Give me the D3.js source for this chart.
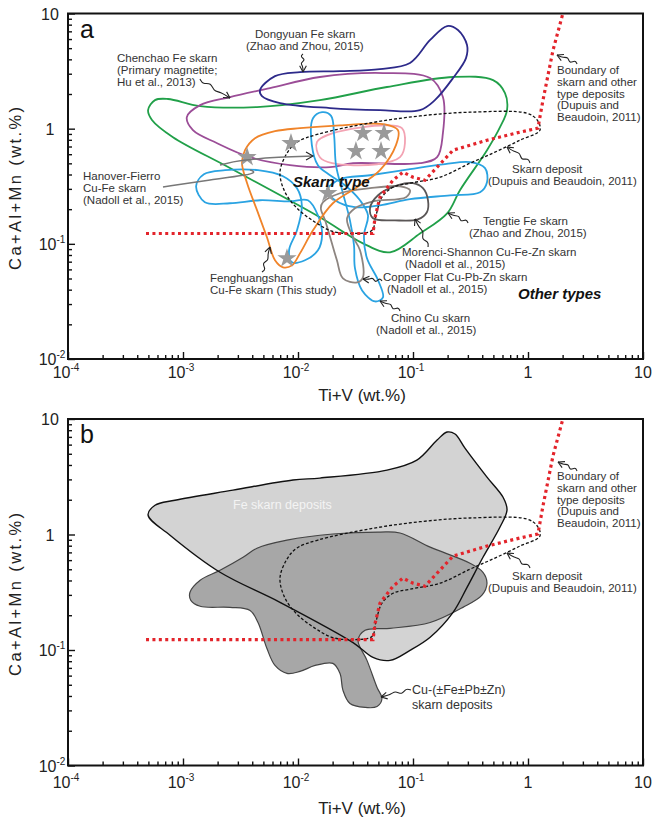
<!DOCTYPE html>
<html><head><meta charset="utf-8">
<script src="https://cdn.jsdelivr.net/npm/d3@7"></script>
<style>body{margin:0;background:#fff}svg{display:block}text{font-family:Arial,"Liberation Sans",sans-serif}</style>
</head><body><svg id="c" width="654" height="818"></svg>
<script>
// ---------- data (x = Ti+V wt.%, y = Ca+Al+Mn wt.%) ----------
const xTicks = [1e-4, 1e-3, 1e-2, 1e-1, 1, 10];
const xTickLabels = [["10","-4"],["10","-3"],["10","-2"],["10","-1"],["1",""],["10",""]];
const yTicks = [1e-2, 1e-1, 1, 10];
const yTickLabels = [["10","-2"],["10","-1"],["1",""],["10",""]];

const dongyuan = [[4.67e-3,2.16],[6.31e-3,2.86],[0.0104,3.10],[0.0232,3.16],[0.0516,3.29],[0.0942,3.72],[0.141,5.89],[0.198,7.78],[0.246,7.19],[0.295,5.32],[0.289,4.10],[0.223,2.75],[0.155,1.77],[0.115,1.45],[0.0516,1.45],[0.019,1.51],[6.97e-3,1.67],[4.86e-3,1.92]];
const chenchao = [[1.08e-3,1.26],[1.22e-3,0.970],[1.98e-3,0.748],[3.83e-3,0.565],[8.51e-3,0.482],[0.019,0.463],[0.0301,0.501],[0.115,0.501],[0.162,0.565],[0.182,0.914],[0.182,1.88],[0.141,2.75],[0.0548,3.04],[0.0155,2.81],[5.71e-3,2.25],[2.56e-3,1.88],[1.41e-3,1.60]];
const tengtie = [[4.97e-4,1.45],[5.71e-4,1.77],[7.41e-4,1.81],[1.41e-3,1.57],[4.40e-3,1.54],[0.0155,1.77],[0.0594,2.30],[0.223,2.81],[0.497,2.64],[0.631,2.04],[0.657,1.45],[0.571,1.03],[0.44,0.650],[0.256,0.292],[0.198,0.184],[0.115,0.123],[0.0631,0.0844],[0.0367,0.101],[0.0155,0.170],[2.56e-3,0.455],[8.18e-4,0.843],[5.37e-4,1.19]];
const fenghuangshan = [[3.46e-3,0.650],[4.23e-3,0.826],[6.31e-3,0.951],[0.0104,1.01],[0.0232,1.07],[0.0571,1.09],[0.0741,0.970],[0.0711,0.720],[0.0516,0.436],[0.0326,0.310],[0.0201,0.225],[0.0135,0.131],[0.0104,0.0826],[8.87e-3,0.0650],[7.41e-3,0.0625],[6.31e-3,0.0720],[5.37e-3,0.114],[4.40e-3,0.196],[3.61e-3,0.336],[3.26e-3,0.501]];
const pinkField = [[0.0146,0.764],[0.0155,0.565],[0.0198,0.501],[0.0487,0.491],[0.0771,0.565],[0.0851,0.748],[0.0801,1.01],[0.0594,1.07],[0.0201,0.914]];
const hanoverFierro = [[1.30e-3,0.316],[1.52e-3,0.402],[2.32e-3,0.436],[4.49e-3,0.436],[7.41e-3,0.386],[9.8e-3,0.304],[0.0108,0.216],[9.8e-3,0.131],[8.36e-3,0.0878],[8.87e-3,0.0691],[0.0115,0.0720],[0.0149,0.0878],[0.0162,0.119],[0.0149,0.177],[0.0122,0.239],[8.51e-3,0.234],[4.67e-3,0.239],[2.56e-3,0.225],[1.55e-3,0.230]];
const chino = [[0.0135,1.23],[0.0162,1.39],[0.0194,1.29],[0.0206,0.877],[0.0214,0.482],[0.0242,0.292],[0.0283,0.160],[0.0307,0.097],[0.0313,0.0612],[0.0361,0.0394],[0.0468,0.0316],[0.0548,0.0343],[0.0497,0.0482],[0.0398,0.0748],[0.0375,0.119],[0.0406,0.177],[0.0346,0.239],[0.0256,0.323],[0.019,0.394],[0.0149,0.482],[0.0132,0.720]];
const blueField = [[0.0179,0.292],[0.0232,0.364],[0.0423,0.394],[0.0942,0.445],[0.190,0.492],[0.313,0.512],[0.423,0.454],[0.44,0.343],[0.383,0.281],[0.210,0.264],[0.0942,0.244],[0.0516,0.216],[0.0313,0.208],[0.0210,0.239]];
const copperFlat = [[0.0165,0.230],[0.0232,0.275],[0.0423,0.304],[0.0771,0.316],[0.0942,0.292],[0.0869,0.254],[0.0449,0.234],[0.0313,0.204],[0.0267,0.167],[0.0295,0.119],[0.0346,0.0878],[0.0367,0.0512],[0.0326,0.0462],[0.0246,0.0501],[0.0218,0.0720],[0.0194,0.107],[0.0172,0.160],[0.0158,0.204]];
const morenci = [[0.0449,0.167],[0.0423,0.204],[0.0497,0.264],[0.0741,0.323],[0.1,0.336],[0.122,0.304],[0.135,0.239],[0.132,0.188],[0.110,0.163],[0.0697,0.160]];
const skarnDeposit = [[8.02e-3,0.612],[9.8e-3,0.764],[0.0149,0.895],[0.0423,1.12],[0.115,1.29],[0.313,1.39],[0.98,1.36],[1.20,1.19],[1.27,0.970],[0.851,0.794],[0.516,0.625],[0.313,0.501],[0.172,0.379],[0.0942,0.336],[0.067,0.310],[0.0537,0.254],[0.0477,0.177],[0.044,0.131],[0.0313,0.123],[0.0201,0.128],[0.0141,0.154],[9.8e-3,0.204],[7.71e-3,0.281],[6.97e-3,0.419]];
const boundary = [[4.77e-4,0.123],[0.0449,0.123],[0.0468,0.170],[0.0516,0.254],[0.067,0.357],[0.0818,0.419],[0.1,0.379],[0.127,0.357],[0.223,0.65],[0.44,0.794],[0.851,0.933],[1.22,1.01],[1.35,1.77],[1.65,4.8],[2.01,10]];
const stars = [[3.61e-3,0.565],[8.69e-3,0.748],[0.0367,0.914],[0.056,0.914],[0.0319,0.637],[0.0527,0.637],[0.0182,0.275],[8.02e-3,0.0748]];
const feSkarn = [[4.97e-4,1.47],[5.71e-4,1.79],[8.51e-4,1.98],[2.72e-3,2.42],[9.05e-3,2.96],[0.0155,3.08],[0.0594,3.61],[0.108,4.41],[0.162,6.58],[0.198,7.71],[0.232,7.41],[0.283,5.60],[0.44,3.14],[0.607,2.10],[0.657,1.63],[0.571,1.16],[0.406,0.635],[0.295,0.349],[0.223,0.212],[0.141,0.129],[0.0942,0.0993],[0.0631,0.0813],[0.0449,0.0863],[0.0301,0.116],[6.97e-3,0.259],[2.10e-3,0.471],[7.71e-4,0.986]];
const cuSkarn = [[1.15e-3,0.316],[1.41e-3,0.402],[2.10e-3,0.490],[3.33e-3,0.635],[4.40e-3,0.761],[8.02e-3,0.893],[0.0201,1.01],[0.0516,1.05],[0.0771,1.03],[0.141,0.777],[0.313,0.564],[0.406,0.471],[0.44,0.378],[0.398,0.298],[0.272,0.234],[0.141,0.173],[0.0631,0.154],[0.0383,0.148],[0.0333,0.121],[0.0398,0.0813],[0.0487,0.0474],[0.0537,0.0380],[0.0487,0.0324],[0.0383,0.0318],[0.0283,0.0344],[0.0246,0.0447],[0.0232,0.0627],[0.0201,0.0766],[0.0141,0.0735],[0.0104,0.0652],[8.02e-3,0.0627],[6.31e-3,0.0735],[5.37e-3,0.103],[4.49e-3,0.173],[3.83e-3,0.220],[2.56e-3,0.234],[1.41e-3,0.239],[1.17e-3,0.269]];

// ---------- drawing ----------
const svg = d3.select("#c");
const X0 = 68, X1 = 643;
const x = d3.scaleLog().domain([1e-4, 10]).range([X0, X1]);
const TXT = "#333";

function squiggle(g, x1, y1, x2, y2) {
  const dx = x2 - x1, dy = y2 - y1, L = Math.hypot(dx, dy), ux = dx / L, uy = dy / L, nx = -uy, ny = ux;
  const prof = [[0,0],[0.15,3],[0.32,-3],[0.5,3],[0.68,0],[1,0]];
  const pts = prof.map(([t, o]) => [x1 + dx * t + nx * o, y1 + dy * t + ny * o]);
  g.append("path").attr("d", d3.line().curve(d3.curveBasis)(pts)).attr("fill","none").attr("stroke","#222").attr("stroke-width",1.1);
  const a = 0.5, len = 7;
  [a, -a].forEach(r => {
    const c = Math.cos(r), s = Math.sin(r);
    const bx = -(ux * c - uy * s), by = -(ux * s + uy * c);
    g.append("line").attr("x1", x2).attr("y1", y2).attr("x2", x2 + bx * len).attr("y2", y2 + by * len).attr("stroke","#222").attr("stroke-width",1.1);
  });
}
function textLines(g, x0, y0, lines, size, dy, opts = {}) {
  lines.forEach((s, i) => {
    g.append("text").attr("x", x0).attr("y", y0 + i * dy).attr("font-size", size)
      .attr("fill", opts.fill || TXT).attr("font-weight", opts.weight || null).attr("font-style", opts.style || null)
      .text(s);
  });
}

function drawPanel(top, bottom, id) {
  const y = d3.scaleLog().domain([1e-2, 10]).range([bottom, top]);
  const g = svg.append("g");
  g.append("clipPath").attr("id", "clip" + id).append("rect").attr("x", X0).attr("y", top).attr("width", X1 - X0).attr("height", bottom - top);
  const plot = g.append("g").attr("clip-path", `url(#clip${id})`);
  const closed = d3.line().x(d => x(d[0])).y(d => y(d[1])).curve(d3.curveCatmullRomClosed.alpha(0.5));
  const open = d3.line().x(d => x(d[0])).y(d => y(d[1]));
  return { g, plot, y, closed, open };
}

function drawAxes(P, top, bottom, labOff, titleOff) {
  const { g, y } = P;
  const minor = [];
  for (let e = -4; e <= 0; e++) for (let k = 2; k <= 9; k++) minor.push(k * Math.pow(10, e));
  const minorY = minor.filter(v => v > 0.01 && v < 10);
  const ax = (sel) => sel.call(s => s.select(".domain").remove()).selectAll("line").attr("stroke", "#111").attr("stroke-width", 1.4);
  g.append("g").attr("transform", `translate(0,${bottom})`).call(d3.axisBottom(x).tickValues(minor).tickSize(-4).tickFormat("")).call(ax);
  g.append("g").attr("transform", `translate(0,${bottom})`).call(d3.axisBottom(x).tickValues(xTicks).tickSize(-7).tickFormat("")).call(ax);
  g.append("g").attr("transform", `translate(${X0},0)`).call(d3.axisLeft(y).tickValues(minorY).tickSize(-4).tickFormat("")).call(ax);
  g.append("g").attr("transform", `translate(${X0},0)`).call(d3.axisLeft(y).tickValues(yTicks).tickSize(-7).tickFormat("")).call(ax);
  g.append("rect").attr("x", X0).attr("y", top).attr("width", X1 - X0).attr("height", bottom - top).attr("fill", "none").attr("stroke", "#111").attr("stroke-width", 2);
  xTicks.forEach((v, i) => {
    const t = g.append("text").attr("x", x(v) + (xTickLabels[i][1] ? -2 : 0)).attr("y", bottom + labOff).attr("font-size", 16).attr("text-anchor", "middle").attr("fill", "#222");
    t.append("tspan").text(xTickLabels[i][0]);
    if (xTickLabels[i][1]) t.append("tspan").attr("dy", -7).attr("font-size", 10).text(xTickLabels[i][1]);
  });
  yTicks.forEach((v, i) => {
    const t = g.append("text").attr("x", 50 + (yTickLabels[i][1] ? 2 : 0)).attr("y", y(v) + 6).attr("font-size", 16).attr("text-anchor", "middle").attr("fill", "#222");
    t.append("tspan").text(yTickLabels[i][0]);
    if (yTickLabels[i][1]) t.append("tspan").attr("dy", -7).attr("font-size", 10).text(yTickLabels[i][1]);
  });
  g.append("text").attr("transform", `translate(21,${(top + bottom) / 2 + 1}) rotate(-90)`).attr("text-anchor", "middle").attr("font-size", 16.5).attr("letter-spacing", 2.4).attr("fill", "#222").text("Ca+Al+Mn (wt.%)");
  g.append("text").attr("x", 362).attr("y", bottom + titleOff).attr("text-anchor", "middle").attr("font-size", 17).attr("fill", "#222").text("Ti+V (wt.%)");
}

function drawBoundary(P) {
  P.plot.append("path").attr("d", P.closed(skarnDeposit)).attr("fill", "none").attr("stroke", "#111").attr("stroke-width", 1.3).attr("stroke-dasharray", "3,2");
  P.plot.append("path").attr("d", P.open(boundary)).attr("fill", "none").attr("stroke", "#e3242b").attr("stroke-width", 3.2).attr("stroke-dasharray", "3,3.4");
}

// ---------------- Panel a ----------------
const A = drawPanel(13.5, 359, "a");
const fields = [
  [tengtie, "#21a049"], [chenchao, "#9b4d97"], [dongyuan, "#2d2a8a"], [pinkField, "#f3a3b3"],
  [hanoverFierro, "#2aa3e2"], [chino, "#2aa3e2"], [blueField, "#2aa3e2"],
  [copperFlat, "#8d8580"], [morenci, "#5a5656"], [fenghuangshan, "#f0842a"]
];
fields.forEach(([d, c]) => A.plot.append("path").attr("d", A.closed(d)).attr("fill", "none").attr("stroke", c).attr("stroke-width", 1.8));
drawBoundary(A);
A.plot.selectAll("path.star").data(stars).join("path").attr("class", "star")
  .attr("transform", d => `translate(${x(d[0])},${A.y(d[1])})`)
  .attr("d", d3.symbol(d3.symbolStar).size(115)).attr("fill", "#9a9a9a");
drawAxes(A, 13.5, 359, 19, 42);

// annotations panel a
const ann = A.g.append("g");
ann.append("text").attr("x", 80).attr("y", 38).attr("font-size", 25).attr("fill", "#111").text("a");
textLines(ann, 255, 38, ["Dongyuan Fe skarn"], 11.5, 12);
textLines(ann, 246, 50, ["(Zhao and Zhou, 2015)"], 11.5, 12);
squiggle(ann, 303, 54, 303, 72);
textLines(ann, 117, 62, ["Chenchao Fe skarn", "(Primary magnetite;", "Hu et al., 2013)"], 11.5, 12);
squiggle(ann, 200, 79, 230, 98);
textLines(ann, 83, 180, ["Hanover-Fierro", "Cu-Fe skarn", "(Nadoll et al., 2015)"], 11.5, 12);
ann.append("path").attr("d", d3.line().curve(d3.curveBasis)([[163,187],[210,180],[248,175],[256,172],[250,170]])).attr("fill", "none").attr("stroke", "#777").attr("stroke-width", 1.5);
ann.append("path").attr("d", d3.line().curve(d3.curveBasis)([[220,165],[240,160],[280,157],[312,156]])).attr("fill", "none").attr("stroke", "#777").attr("stroke-width", 1.5);
ann.append("path").attr("d", "M306,152 L313,156 L306,160").attr("fill", "none").attr("stroke", "#222").attr("stroke-width", 1.1);
textLines(ann, 293, 187, ["Skarn type"], 15, 0, { weight: "bold", style: "italic", fill: "#111" });
textLines(ann, 210, 282, ["Fenghuangshan", "Cu-Fe skarn (This study)"], 11.5, 12);
squiggle(ann, 262, 272, 270, 247);
textLines(ann, 402, 256, ["Morenci-Shannon Cu-Fe-Zn skarn"], 11.5, 12);
textLines(ann, 405, 268, ["(Nadoll et al., 2015)"], 11.5, 12);
squiggle(ann, 428, 247, 415, 219);
textLines(ann, 383, 281, ["Copper Flat Cu-Pb-Zn skarn"], 11.5, 12);
textLines(ann, 387, 293, ["(Nadoll et al., 2015)"], 11.5, 12);
squiggle(ann, 382, 281, 363, 279);
textLines(ann, 391, 322, ["Chino Cu skarn"], 11.5, 12);
textLines(ann, 376, 334, ["(Nadoll et al., 2015)"], 11.5, 12);
squiggle(ann, 400, 311, 380, 301);
textLines(ann, 483, 225, ["Tengtie Fe skarn"], 11.5, 12);
textLines(ann, 469, 237, ["(Zhao and Zhou, 2015)"], 11.5, 12);
squiggle(ann, 468, 223, 448, 213);
textLines(ann, 518, 299, ["Other types"], 15, 0, { weight: "bold", style: "italic", fill: "#111" });
textLines(ann, 512, 173, ["Skarn deposit"], 11.5, 12);
textLines(ann, 488, 185, ["(Dupuis and Beaudoin, 2011)"], 11.5, 12);
squiggle(ann, 530, 163, 507, 147);
textLines(ann, 557, 74, ["Boundary of", "skarn and other", "type deposits", "(Dupuis and", "Beaudoin, 2011)"], 11.5, 11.8);
squiggle(ann, 577, 64, 557, 55);

// ---------------- Panel b ----------------
const B = drawPanel(419, 765.5, "b");
B.plot.append("path").attr("d", B.closed(feSkarn)).attr("fill", "#d3d3d3").attr("stroke", "none");
B.plot.append("path").attr("d", B.closed(cuSkarn)).attr("fill", "#a7a7a7").attr("stroke", "#444").attr("stroke-width", 1.2);
B.plot.append("path").attr("d", B.closed(feSkarn)).attr("fill", "none").attr("stroke", "#111").attr("stroke-width", 1.4);
drawBoundary(B);
drawAxes(B, 419, 765.5, 22, 48);
const annb = B.g.append("g");
annb.append("text").attr("x", 80).attr("y", 443).attr("font-size", 25).attr("fill", "#111").text("b");
textLines(annb, 233, 509, ["Fe skarn deposits"], 12.5, 0, { fill: "#f4f4f4" });
textLines(annb, 557, 480, ["Boundary of", "skarn and other", "type deposits", "(Dupuis and", "Beaudoin, 2011)"], 11.5, 11.8);
squiggle(annb, 577, 471, 558, 462);
textLines(annb, 512, 580, ["Skarn deposit"], 11.5, 12);
textLines(annb, 488, 592, ["(Dupuis and Beaudoin, 2011)"], 11.5, 12);
squiggle(annb, 530, 568, 507, 553);
textLines(annb, 412, 694, ["Cu-(±Fe±Pb±Zn)", "skarn deposits"], 12.5, 15);
squiggle(annb, 411, 690, 381, 697);
</script></body></html>
